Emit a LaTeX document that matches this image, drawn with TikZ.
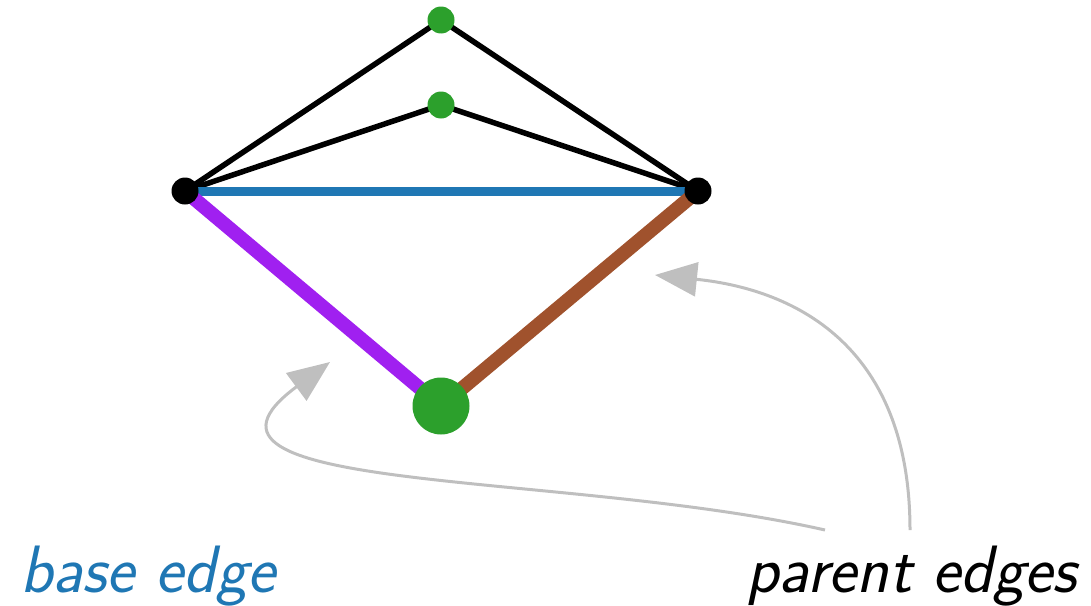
\documentclass[tikz,border=0pt]{standalone}
\usepackage{fontspec}
\usetikzlibrary{arrows.meta, backgrounds}
\definecolor{EdgeBlue}{HTML}{1F77B4}
\definecolor{EdgePurple}{HTML}{A020F0}
\definecolor{EdgeBrown}{HTML}{A0522D}
\definecolor{NodeGreen}{HTML}{2CA02C}
\definecolor{ArrowGray}{HTML}{BFBFBF}

\begin{document}
\begin{tikzpicture}[x=1pt, y=-1pt,
    vtx/.style={circle, inner sep=0pt, minimum size=27pt},
    blackvtx/.style={vtx, fill=black},
    greenvtx/.style={vtx, fill=NodeGreen},
    plainedge/.style={line width=5.5pt, black},
    pointer/.style={draw=ArrowGray, line width=3pt,
      -{Triangle[length=42pt, width=34pt]}},
    caption/.style={font=\fontsize{67}{78}\selectfont\sffamily\itshape,
      inner sep=0pt, anchor=base west}]
  \useasboundingbox (0,0) rectangle (1091,605);

  % vertices
  \node[greenvtx] (top) at (441,20) {};
  \node[greenvtx] (mid) at (441,105) {};
  \node[blackvtx] (left) at (185,191) {};
  \node[blackvtx] (right) at (698,191) {};
  \node[greenvtx, minimum size=57pt] (new) at (441,406) {};

  % edges
  \begin{scope}[on background layer]
    \draw[plainedge] (left.center) -- (top.center) -- (right.center);
    \draw[plainedge] (left.center) -- (mid.center) -- (right.center);
    \draw[line width=9pt, EdgeBlue] (left.center) -- (right.center);
    \draw[line width=14pt, EdgePurple] (left.center) -- (new.center);
    \draw[line width=14pt, EdgeBrown] (right.center) -- (new.center);
  \end{scope}

  % labels
  \node[caption, text=EdgeBlue] (base) at (20,592) {base edge};
  \node[caption, text=black, anchor=base east] (parents) at (1077,592) {parent edges};

  % pointers
  \coordinate (fromleft) at (825,530);
  \coordinate (fromright) at (910,530);
  \coordinate (tipleft) at (330,362);
  \coordinate (tipright) at (655,275);
  \draw[pointer] (fromleft) .. controls (560,470) and (150,495) .. (tipleft);
  \draw[pointer] (fromright) .. controls (910,350) and (800,290) .. (tipright);
\end{tikzpicture}
\end{document}
